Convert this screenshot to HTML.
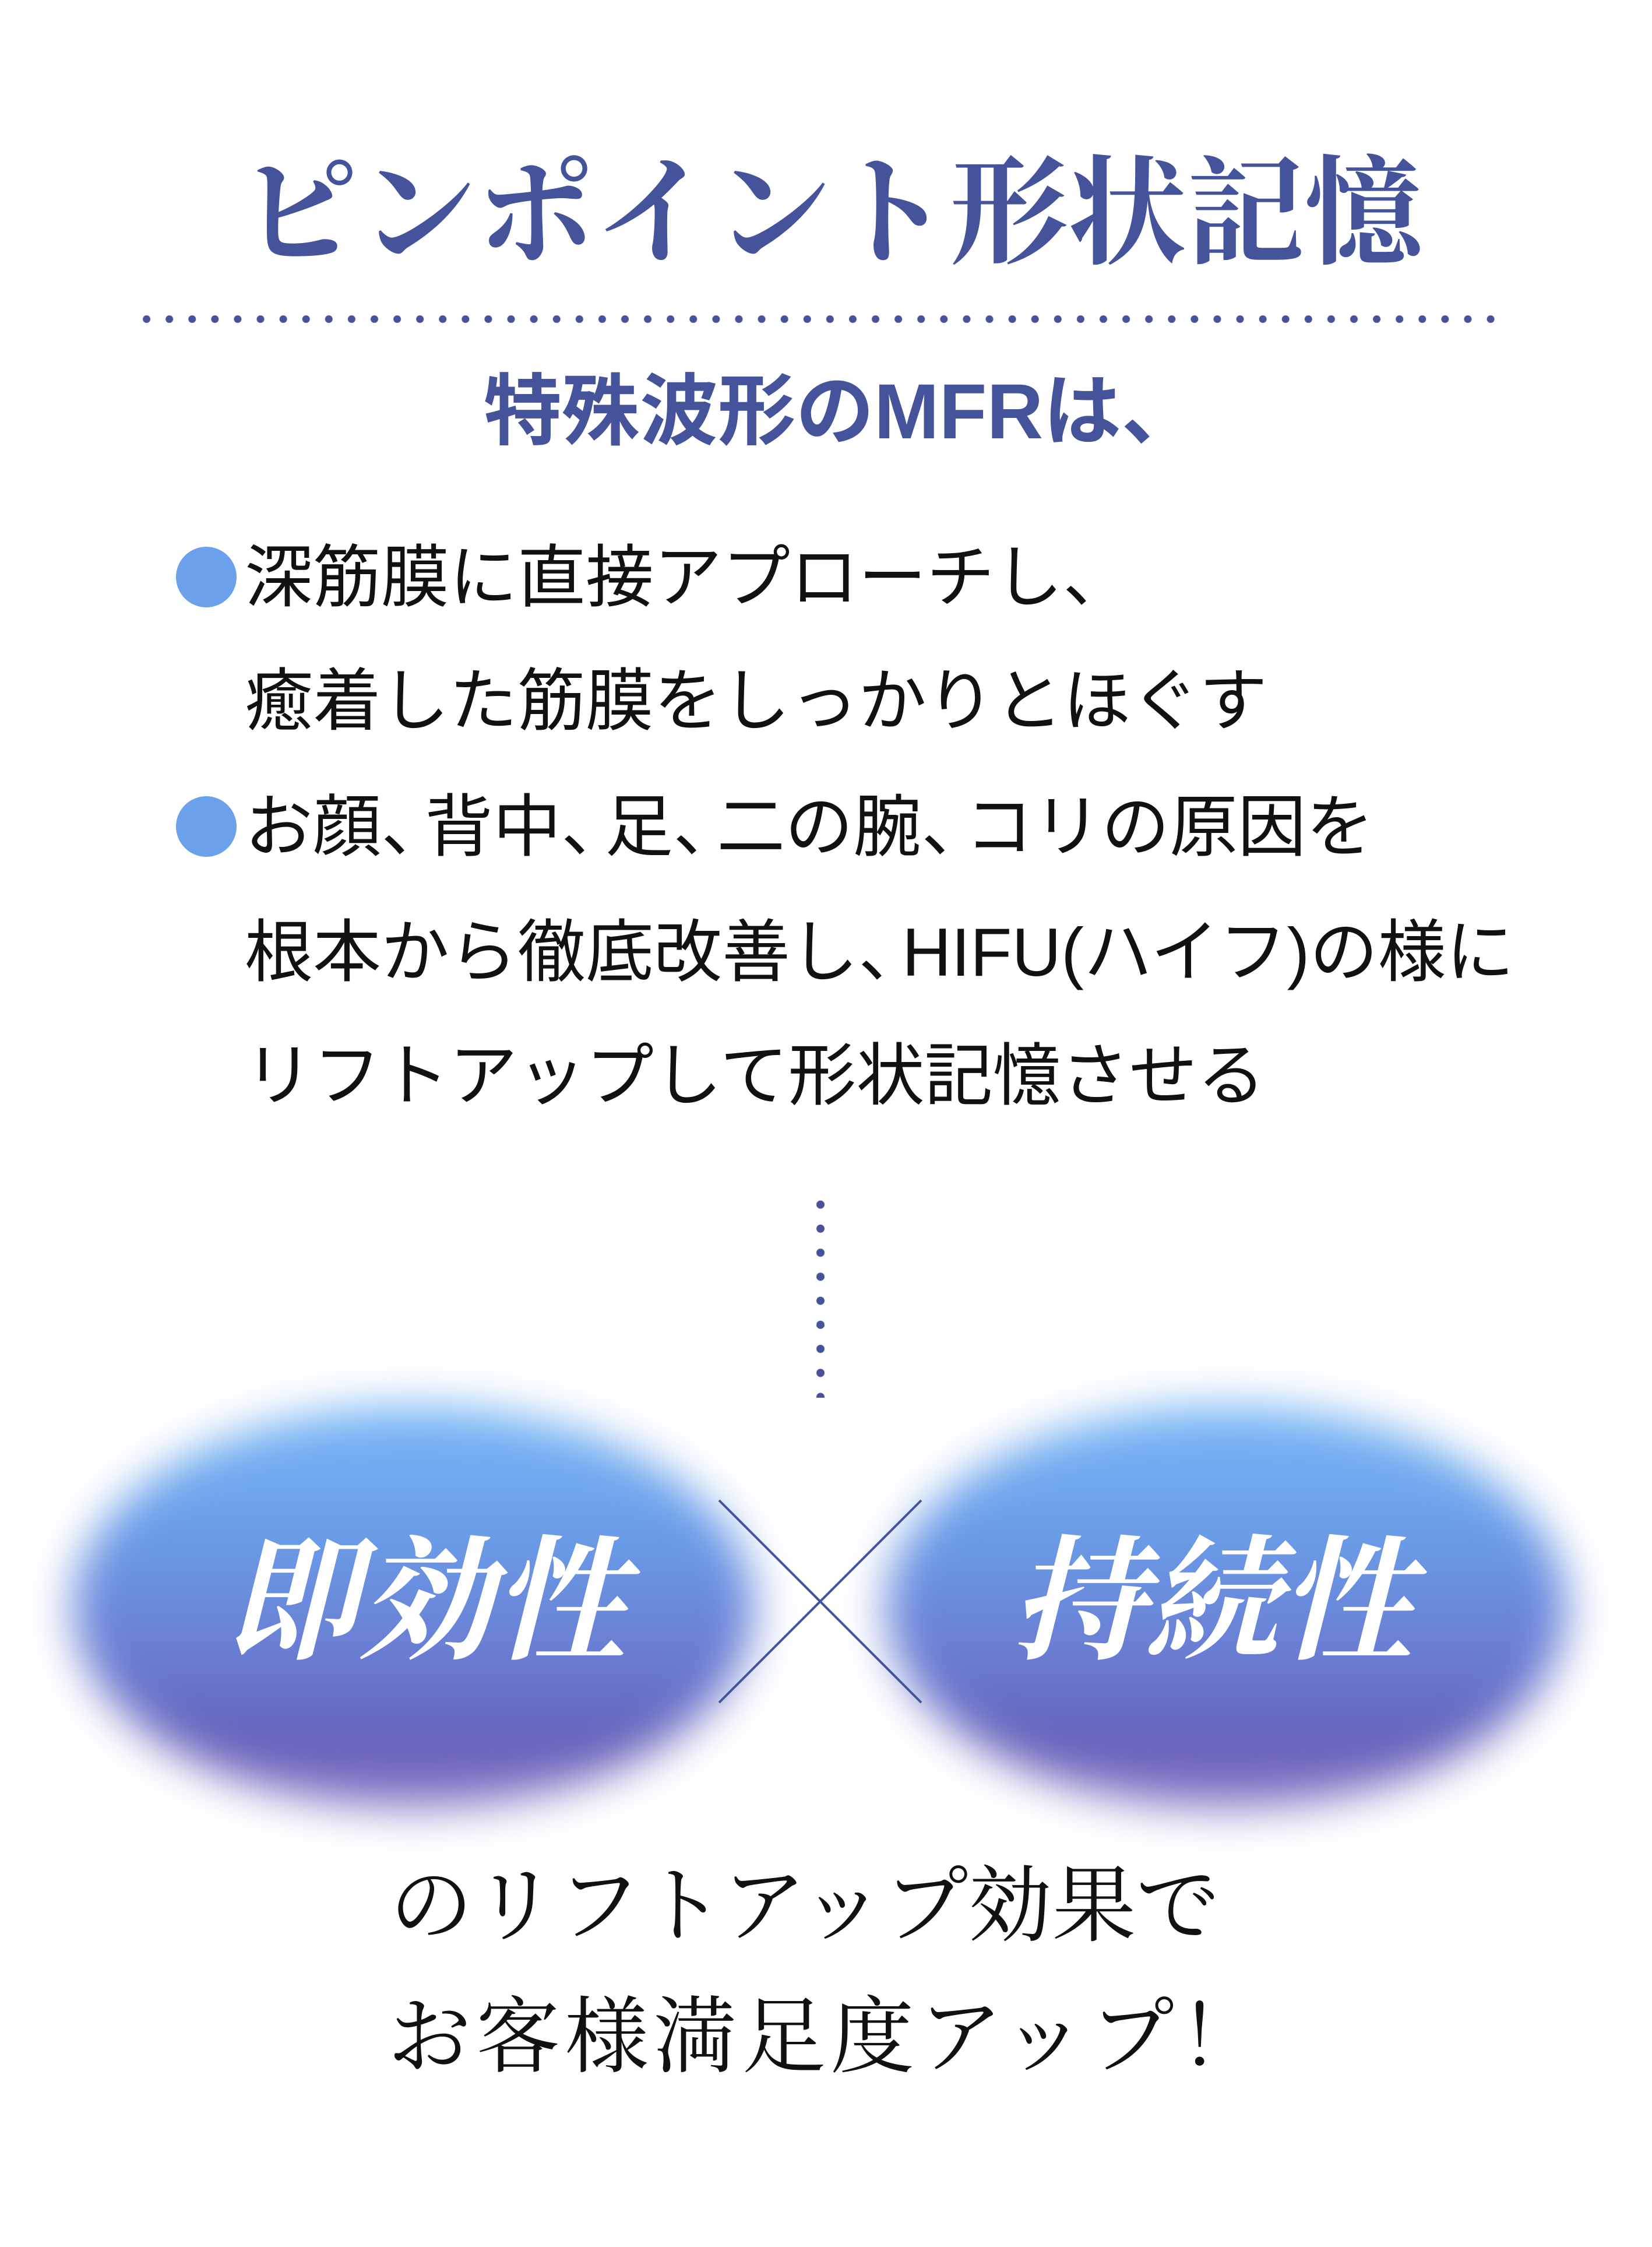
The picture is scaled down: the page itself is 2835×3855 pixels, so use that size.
<!DOCTYPE html>
<html><head><meta charset="utf-8">
<style>
html,body{margin:0;padding:0;background:#fff;}
body{width:2835px;height:3855px;position:relative;overflow:hidden;}
.t{position:absolute;white-space:nowrap;line-height:1;}
.serif{font-family:"Liberation Serif","Noto Serif CJK SC",serif;}
.sans{font-family:"Liberation Sans","Noto Sans CJK JP",sans-serif;}
.blob{position:absolute;border-radius:50%;filter:blur(38px);
 background:linear-gradient(to bottom,#78b8f6 0%,#6a9ee8 30%,#6a7fd4 60%,#6560b8 85%,#8a7cc8 100%);}
.bul{position:absolute;width:104px;height:104px;border-radius:50%;background:#6ba1ea;}
.c{letter-spacing:-42px;}
</style></head><body>

<div class="t serif" style="left:412px;top:266px;font-size:203px;color:#45539b;font-weight:bold;">ピンポイント形状記憶</div>

<div style="position:absolute;left:232px;top:541px;width:2350px;height:13px;background:radial-gradient(circle,#45539b 6px,transparent 7px) 0 0/39.1px 13px repeat-x;"></div>

<div class="t sans" style="left:830px;top:640px;font-size:134px;font-weight:bold;color:#45539b;">特殊波形のMFRは、</div>

<div class="bul" style="left:302px;top:938px;"></div>
<div class="bul" style="left:302px;top:1366px;"></div>
<div class="t sans" style="left:420px;top:932px;font-size:117px;color:#111;">深筋膜に直接アプローチし、</div>
<div class="t sans" style="left:420px;top:1144px;font-size:117px;color:#111;">癒着した筋膜をしっかりとほぐす</div>
<div class="t sans" style="left:420px;top:1360px;font-size:117px;color:#111;">お顔<span class="c">、</span>背中<span class="c">、</span>足<span class="c">、</span>二の腕<span class="c">、</span>コリの原因を</div>
<div class="t sans" style="left:420px;top:1575px;font-size:117px;color:#111;">根本から徹底改善し<span class="c">、</span>HIFU(ハイフ)の様に</div>
<div class="t sans" style="left:420px;top:1787px;font-size:117px;color:#111;">リフトアップして形状記憶させる</div>

<div style="position:absolute;left:1401px;top:2046px;width:14px;height:352px;background:radial-gradient(circle,#45539b 6.5px,transparent 7.5px) 0 0/14px 41.25px repeat-y;"></div>

<div class="blob" style="left:125px;top:2412px;width:1170px;height:690px;"></div>
<div class="blob" style="left:1520px;top:2412px;width:1170px;height:690px;"></div>

<svg style="position:absolute;left:0;top:0" width="2835" height="3855">
<line x1="1234" y1="2574" x2="1581" y2="2921" stroke="#45539b" stroke-width="4"/>
<line x1="1581" y1="2574" x2="1234" y2="2921" stroke="#45539b" stroke-width="4"/>
</svg>

<div class="t serif" style="left:385px;top:2635px;font-size:230px;color:#fff;font-style:italic;font-weight:bold;">即効性</div>
<div class="t serif" style="left:1735px;top:2635px;font-size:230px;color:#fff;font-style:italic;font-weight:bold;">持続性</div>

<div class="t serif" style="left:668px;top:3200px;font-size:144px;color:#111;">のリフトアップ効果で</div>
<div class="t serif" style="left:665px;top:3425px;font-size:144px;color:#111;letter-spacing:8px;">お客様満足度アップ！</div>

</body></html>
